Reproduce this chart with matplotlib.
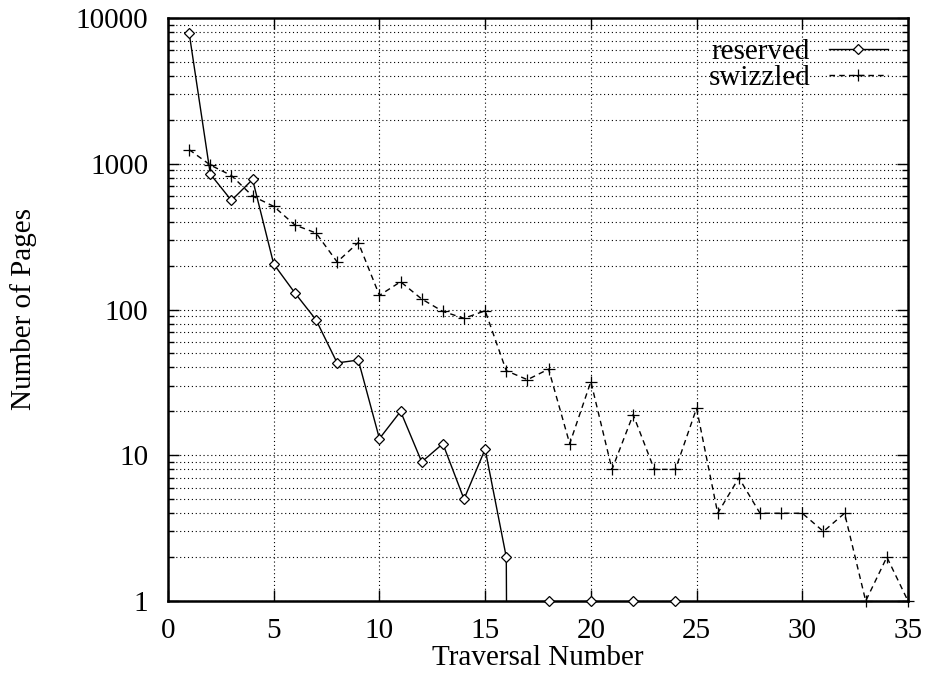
import numpy as np
import matplotlib
matplotlib.use("Agg")
import matplotlib.pyplot as plt
from matplotlib.ticker import LogLocator, FixedLocator, NullFormatter, FixedFormatter

plt.rcParams['font.family'] = ['Liberation Serif', 'DejaVu Serif']

# Pages per traversal
traversal = np.arange(1, 36)
reserved = [7900, 850, 560, 780, 205, 130, 85, 43, 45, 13,
            20, 9, 12, 5, 11, 2, 0, 1, 0, 1,
            0, 1, 0, 1, 0, 0, 0, 0, 0, 0,
            0, 0, 0, 0, 0]
swizzled = [1250, 980, 830, 600, 510, 380, 335, 212, 288, 125,
            155, 118, 97, 87, 98, 38, 33, 39, 12, 32,
            8, 19, 8, 8, 21, 4, 7, 4, 4, 4,
            3, 4, 1, 2, 1]

x_ticks = [0, 5, 10, 15, 20, 25, 30, 35]
y_ticks = [1, 10, 100, 1000, 10000]
y_tick_labels = ["1", "10", "100", "1000", "10000"]

FS = 21

fig = plt.figure(figsize=(9.25, 6.74), dpi=100)
ax = fig.add_axes([168 / 925, 73 / 674, 740 / 925, 583 / 674])

ax.set_yscale('log')
ax.set_xlim(0, 35)
ax.set_ylim(1, 10000)


def plot_series(x, y, ls, marker, ms, label):
    y = np.asarray(y, dtype=float)
    # zero counts fall to the bottom edge on a log axis
    y_line = np.where(y > 0, y, 1e-30)
    y_mark = np.where(y > 0, y, np.nan)
    ax.plot(x, y_line, color='black', lw=1.0, ls=ls, clip_on=True, zorder=3)
    ax.plot(x, y_mark, ls='none', marker=marker, ms=ms, mfc='white',
            mec='black', mew=0.9, clip_on=False, zorder=4)
    return ax.plot([], [], color='black', lw=1.0, ls=ls, marker=marker, ms=ms,
                   mfc='white', mec='black', mew=0.9, label=label)[0]


h1 = plot_series(traversal, reserved, '-', 'D', 5.5, 'reserved')
h2 = plot_series(traversal, swizzled, (0, (4, 3)), '+', 8, 'swizzled')

# ticks and grid
ax.xaxis.set_major_locator(FixedLocator(x_ticks))
ax.yaxis.set_major_locator(FixedLocator(y_ticks))
ax.yaxis.set_major_formatter(FixedFormatter(y_tick_labels))
ax.yaxis.set_minor_locator(LogLocator(base=10, subs=np.arange(2, 10)))
ax.yaxis.set_minor_formatter(NullFormatter())

ax.tick_params(which='both', direction='in', top=True, right=True,
               labelsize=FS, width=1.0, colors='black')
ax.tick_params(which='major', length=8)
ax.tick_params(which='minor', length=4)
ax.tick_params(axis='y', which='major', pad=14)
ax.tick_params(axis='x', which='major', pad=12)

grid_kw = dict(color='black', lw=0.8, ls=(0, (1, 2.5)))
ax.grid(True, which='major', axis='x', **grid_kw)
ax.grid(True, which='both', axis='y', **grid_kw)
ax.set_axisbelow(True)

for sp in ax.spines.values():
    sp.set_linewidth(1.8)

ax.set_xlabel('Traversal Number', fontsize=FS, labelpad=1)
ax.set_ylabel('Number of Pages', fontsize=FS, va='center')
ax.yaxis.set_label_coords(-0.195, 0.5)

leg = ax.legend(handles=[h1, h2], loc='upper right', markerfirst=False,
                frameon=False, fontsize=FS, handlelength=2.0,
                handletextpad=0.65, labelspacing=0.0, borderaxespad=0.3,
                numpoints=1)

fig.savefig('out.png', dpi=100)
